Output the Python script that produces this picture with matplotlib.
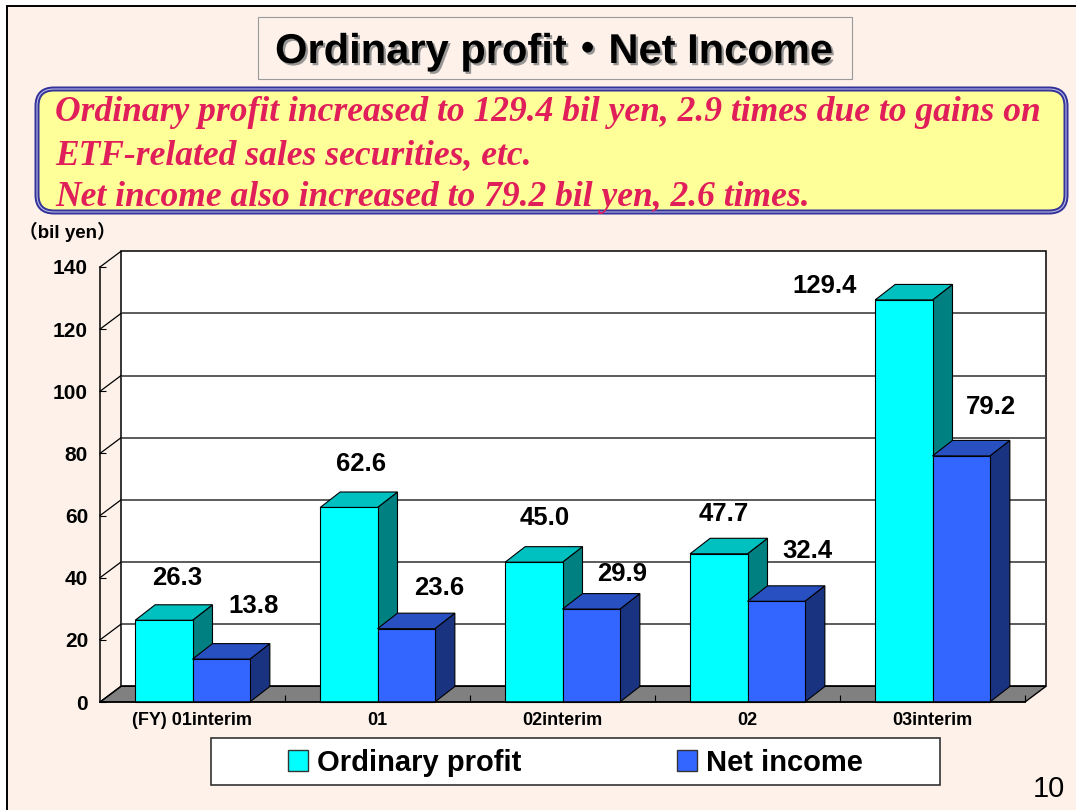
import numpy as np
import matplotlib

matplotlib.use("Agg")
import matplotlib.pyplot as plt
import matplotlib.patheffects as pe
from matplotlib.colors import LinearSegmentedColormap
from matplotlib.patches import FancyBboxPatch, Patch, Polygon, Rectangle

# ---- data -------------------------------------------------------------
CATEGORIES = ["(FY) 01interim", "01", "02interim", "02", "03interim"]
ORDINARY_PROFIT = [26.3, 62.6, 45.0, 47.7, 129.4]
NET_INCOME = [13.8, 23.6, 29.9, 32.4, 79.2]
Y_TICKS = [0, 20, 40, 60, 80, 100, 120, 140]
SERIES_NAMES = ["Ordinary profit", "Net income"]

TITLE = "Ordinary profit・Net Income"
SUMMARY_LINES = [
    "Ordinary profit increased to 129.4 bil yen, 2.9 times due to gains on",
    "ETF-related sales securities, etc.",
    "Net income also increased to 79.2 bil yen, 2.6 times.",
]
UNIT_LABEL = "（bil yen）"
PAGE_NUMBER = "10"

# ---- layout / style (pixels at dpi=100) --------------------------------
W, H = 1076, 810
PLOT_LEFT, PLOT_RIGHT = 100, 1025     # front plane, x
PLOT_BOTTOM, PLOT_TOP = 702, 267      # front plane, y
WALL_DX, WALL_DY = 21, 15.7           # depth of the 3d box
BAR_DX, BAR_DY = 20, 15.5             # depth of each bar
BAR_WIDTH = 0.31

COLORS = {
    "ordinary": {"front": "#00FFFF", "top": "#00C0C0", "side": "#008080"},
    "net": {"front": "#3366FF", "top": "#2850C0", "side": "#1A3380"},
}
BG_COLOR = "#FDF1EA"
TEXT_RED = "#E01E5A"

# label offsets (px) from the centre of the front face top
ORDINARY_LABEL_OFFSETS = [(13, 42), (12, 43), (11, 44), (5, 40), (-79, 14)]
NET_LABEL_OFFSETS = [(32, 53), (33, 41), (31, 35), (31, 50), (30, 49)]

PT = 0.72  # points per pixel

plt.rcParams["font.family"] = ["Liberation Sans", "Noto Sans CJK JP", "DejaVu Sans"]

fig = plt.figure(figsize=(W / 100, H / 100), dpi=100, facecolor="white")

# background layer in pixel coordinates
bg = fig.add_axes([0, 0, 1, 1], zorder=-1)
bg.add_patch(Rectangle((7, 6), W, H, facecolor=BG_COLOR, edgecolor="black", lw=1.4))

grad = np.linspace(0, 1, 64).reshape(-1, 1)
bg.imshow(grad, extent=[258, 852, 79, 17],
          cmap=LinearSegmentedColormap.from_list("tb", ["#D3D3D3", "#FFFFFF"]),
          aspect="auto", origin="upper")
bg.add_patch(Rectangle((258, 17), 594, 62, fill=False, edgecolor="#9A9A9A", lw=0.8))
bg.text(554, 63, TITLE, ha="center", va="baseline", fontsize=30, fontweight="bold",
        path_effects=[pe.SimplePatchShadow(offset=(1.6, -1.6), shadow_rgbFace="#8C8C8C", alpha=0.9),
                      pe.Normal()])

box = dict(boxstyle="round,pad=0,rounding_size=17")
bg.add_patch(FancyBboxPatch((37, 89), 1029, 123, facecolor="#FFFF99",
                            edgecolor="#333399", lw=3.6, **box))
bg.add_patch(FancyBboxPatch((37, 89), 1029, 123, fill=False,
                            edgecolor="#B8B8E8", lw=0.8, **box))
for line, base in zip(SUMMARY_LINES, [121, 164, 206]):
    bg.text(55, base, line, ha="left", va="baseline", color=TEXT_RED, fontsize=25.6,
            family="Liberation Serif", fontweight="bold", style="italic")

bg.text(19, 232, UNIT_LABEL, ha="left", va="center", fontsize=13.5, fontweight="bold")
bg.text(1049, 789, PAGE_NUMBER, ha="center", va="center", fontsize=21)

bg.add_patch(Rectangle((211, 738), 729, 47, facecolor="white", edgecolor="#333333", lw=1.2))
bg.set_xlim(0, W)
bg.set_ylim(H, 0)
bg.axis("off")

# ---- chart axes: front plane of the 3d box ----------------------------
ax = fig.add_axes([PLOT_LEFT / W, 1 - PLOT_BOTTOM / H,
                   (PLOT_RIGHT - PLOT_LEFT) / W, (PLOT_BOTTOM - PLOT_TOP) / H])
n = len(CATEGORIES)
ax.set_xlim(-0.5, n - 0.5)
ax.set_ylim(Y_TICKS[0], Y_TICKS[-1])
ax.patch.set_alpha(0)

px_x = (PLOT_RIGHT - PLOT_LEFT) / n
px_y = (PLOT_BOTTOM - PLOT_TOP) / (Y_TICKS[-1] - Y_TICKS[0])
wdx, wdy = WALL_DX / px_x, WALL_DY / px_y
bdx, bdy = BAR_DX / px_x, BAR_DY / px_y
x0, x1 = -0.5, n - 0.5
ytop = Y_TICKS[-1]

# back wall, floor and side-wall lines
ax.add_patch(Rectangle((x0 + wdx, wdy), x1 - x0, ytop, facecolor="white",
                       edgecolor="black", lw=1.1, zorder=0.5, clip_on=False))
ax.hlines([v + wdy for v in Y_TICKS[1:-1]], x0 + wdx, x1 + wdx, color="#404040",
          lw=1.2, zorder=0.6, clip_on=False)
ax.add_patch(Polygon([(x0, 0), (x1, 0), (x1 + wdx, wdy), (x0 + wdx, wdy)],
                     facecolor="#808080", edgecolor="black", lw=1.0, zorder=0.7, clip_on=False))
for v in Y_TICKS:
    ax.plot([x0, x0 + wdx], [v, v + wdy], color="black", lw=0.9, zorder=0.7, clip_on=False)


def draw_bars(values, xshift, colors, z):
    for i, v in enumerate(values):
        left = i + xshift
        right = left + BAR_WIDTH
        ax.add_patch(Polygon([(right, 0), (right + bdx, bdy), (right + bdx, v + bdy), (right, v)],
                             facecolor=colors["side"], edgecolor="black", lw=0.8,
                             zorder=z, clip_on=False))
        ax.add_patch(Polygon([(left, v), (right, v), (right + bdx, v + bdy), (left + bdx, v + bdy)],
                             facecolor=colors["top"], edgecolor="black", lw=0.8,
                             zorder=z, clip_on=False))
    ax.bar(np.arange(len(values)) + xshift, values, BAR_WIDTH, align="edge",
           color=colors["front"], edgecolor="black", lw=0.8, zorder=z + 0.05, clip_on=False)


draw_bars(ORDINARY_PROFIT, -BAR_WIDTH, COLORS["ordinary"], 1.0)
draw_bars(NET_INCOME, 0.0, COLORS["net"], 1.2)

for values, shift, offsets in [(ORDINARY_PROFIT, -BAR_WIDTH / 2, ORDINARY_LABEL_OFFSETS),
                               (NET_INCOME, BAR_WIDTH / 2, NET_LABEL_OFFSETS)]:
    for i, (v, (ox, oy)) in enumerate(zip(values, offsets)):
        ax.annotate(f"{v:.1f}", xy=(i + shift, v), xytext=(ox * PT, oy * PT),
                    textcoords="offset points", ha="center", va="center",
                    fontsize=18.5, fontweight="bold", zorder=3, annotation_clip=False)

ax.set_yticks(Y_TICKS)
ax.set_xticks(range(n), CATEGORIES)
ax.set_xticks(np.arange(0.5, n, 1), minor=True)
ax.tick_params(axis="y", direction="in", length=4.3, width=0.8, pad=8.6, labelsize=15)
ax.tick_params(axis="x", which="major", length=0, pad=7.5, labelsize=13)
ax.tick_params(axis="x", which="minor", direction="in", length=5, width=0.8)
for lbl in ax.get_xticklabels() + ax.get_yticklabels():
    lbl.set_fontweight("bold")
for side in ("top", "right"):
    ax.spines[side].set_visible(False)
for side in ("left", "bottom"):
    ax.spines[side].set_linewidth(1.1)
    ax.spines[side].set_zorder(2.6)

handles = [Patch(facecolor=COLORS["ordinary"]["front"], edgecolor="#333333", lw=1.0),
           Patch(facecolor=COLORS["net"]["front"], edgecolor="#333333", lw=1.0)]
fig.legend(handles, SERIES_NAMES, loc="center", bbox_to_anchor=(575.5 / W, 1 - 763 / H),
           ncol=2, frameon=False, prop={"weight": "bold", "size": 21},
           handlelength=0.69, handleheight=0.72, handletextpad=0.3, columnspacing=5.35)

fig.savefig("out.png", dpi=100)
